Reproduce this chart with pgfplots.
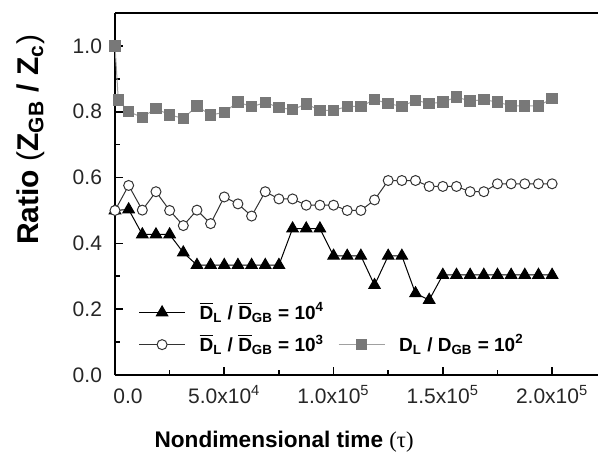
\documentclass[border=0pt]{standalone}
\usepackage{pgfplots}
\pgfplotsset{compat=1.18}
\usepackage{pgfplotstable}
\usepackage{fontspec}
\setmainfont{Liberation Sans}
\newfontfamily\seriffont{Liberation Serif}
\newcommand{\ol}[1]{\ensuremath{\overline{\hbox{#1}}}}

\pgfplotstableread{
x y
0 0.500
6250 0.503
12500 0.427
18750 0.427
25000 0.427
31250 0.372
37500 0.334
43750 0.334
50000 0.334
56250 0.334
62500 0.334
68750 0.334
75000 0.334
81250 0.445
87500 0.445
93750 0.445
100000 0.362
106250 0.362
112500 0.362
118750 0.273
125000 0.362
131250 0.362
137500 0.248
143750 0.228
150000 0.304
156250 0.304
162500 0.304
168750 0.304
175000 0.304
181250 0.304
187500 0.304
193750 0.304
200000 0.304
}\tridata

\pgfplotstableread{
x y
0 0.500
6250 0.576
12500 0.501
18750 0.557
25000 0.500
31250 0.454
37500 0.501
43750 0.460
50000 0.541
56250 0.520
62500 0.483
68750 0.557
75000 0.535
81250 0.535
87500 0.516
93750 0.516
100000 0.516
106250 0.500
112500 0.500
118750 0.532
125000 0.591
131250 0.591
137500 0.591
143750 0.573
150000 0.573
156250 0.573
162500 0.557
168750 0.557
175000 0.581
181250 0.581
187500 0.581
193750 0.581
200000 0.581
}\circdata

\pgfplotstableread{
x y
0 1.000
1500 0.836
6250 0.800
12500 0.783
18750 0.810
25000 0.790
31250 0.780
37500 0.817
43750 0.790
50000 0.798
56250 0.830
62500 0.815
68750 0.828
75000 0.813
81250 0.806
87500 0.824
93750 0.804
100000 0.804
106250 0.816
112500 0.816
118750 0.837
125000 0.825
131250 0.816
137500 0.835
143750 0.825
150000 0.829
156250 0.845
162500 0.832
168750 0.837
175000 0.829
181250 0.818
187500 0.818
193750 0.818
200000 0.840
}\sqdata

\definecolor{sqfill}{RGB}{120,120,120}
\definecolor{sqline}{RGB}{160,160,160}

\begin{document}
\begin{tikzpicture}
\useasboundingbox (-57.5pt,-40pt) rectangle (241.5pt,187.5pt);
\begin{axis}[
  at={(0,0)}, anchor=south west,
  scale only axis, width=241.5pt, height=181pt,
  xmin=0, xmax=221000, ymin=0, ymax=1.1,
  axis lines=left,
  axis line style={-, line width=1pt, black},
  xtick={0,50000,100000,150000,200000},
  xticklabels={\hspace{13pt}0.0, 5.0x10\textsuperscript{4}, 1.0x10\textsuperscript{5}, 1.5x10\textsuperscript{5}, 2.0x10\textsuperscript{5}\hspace{10pt}},
  scaled x ticks=false,
  ytick={0,0.2,0.4,0.6,0.8,1.0},
  minor x tick num=1, minor y tick num=1,
  tick align=inside,
  major tick length=4pt, minor tick length=2.5pt,
  every tick/.style={line width=0.8pt, black},
  /pgf/number format/assume math mode=true,
  y tick label style={/pgf/number format/fixed, /pgf/number format/fixed zerofill, /pgf/number format/precision=1, xshift=-3pt},
  ticklabel style={font=\fontsize{10.5}{12}\selectfont, text=black!85},
  x tick label style={anchor=base, yshift=-14pt},
  xlabel={Nondimensional time {\seriffont\mdseries(τ)}},
  every axis x label/.style={at={(rel axis cs:0.35,-0.185)}, anchor=center, font=\bfseries\fontsize{11.3}{13}\selectfont},
  ylabel={Ratio {\mdseries(}Z\textsubscript{GB} / Z\textsubscript{c}{\mdseries)}},
  every axis y label/.style={at={(rel axis cs:-0.174,0.65)}, rotate=90, anchor=center, font=\bfseries\fontsize{15}{17}\selectfont},
  legend columns=2,
  legend style={draw=none, fill=none, at={(rel axis cs:0.048,0.044)}, anchor=south west,
    font=\bfseries\fontsize{9.5}{10.5}\selectfont, column sep=5pt, row sep=2pt, inner sep=0pt,
    cells={anchor=west}},
  legend image code/.code={\draw[mark repeat=2, mark phase=2, #1] plot coordinates {(0pt,0pt) (11.5pt,0pt) (23pt,0pt)};},
]
\addplot[black, line width=0.5pt, mark=triangle*, mark size=3.3pt, mark options={solid, fill=black}] table {\tridata};
\addlegendentry{\ol{D}\textsubscript{L} / \ol{D}\textsubscript{GB} = 10\textsuperscript{4}}
\addlegendimage{empty legend}
\addlegendentry{}
\addplot[black!80, line width=0.5pt, mark=*, mark size=2.5pt, mark options={solid, fill=white, draw=black!80}] table {\circdata};
\addlegendentry{\ol{D}\textsubscript{L} / \ol{D}\textsubscript{GB} = 10\textsuperscript{3}}
\addplot[sqline, line width=0.5pt, mark=square*, mark size=2.6pt, mark options={solid, fill=sqfill, draw=sqfill}] table {\sqdata};
\addlegendentry{D\textsubscript{L} / D\textsubscript{GB} = 10\textsuperscript{2}}
\draw[line width=1.3pt, black] (rel axis cs:0,1) -- (rel axis cs:1,1);
\end{axis}
\end{tikzpicture}
\end{document}
